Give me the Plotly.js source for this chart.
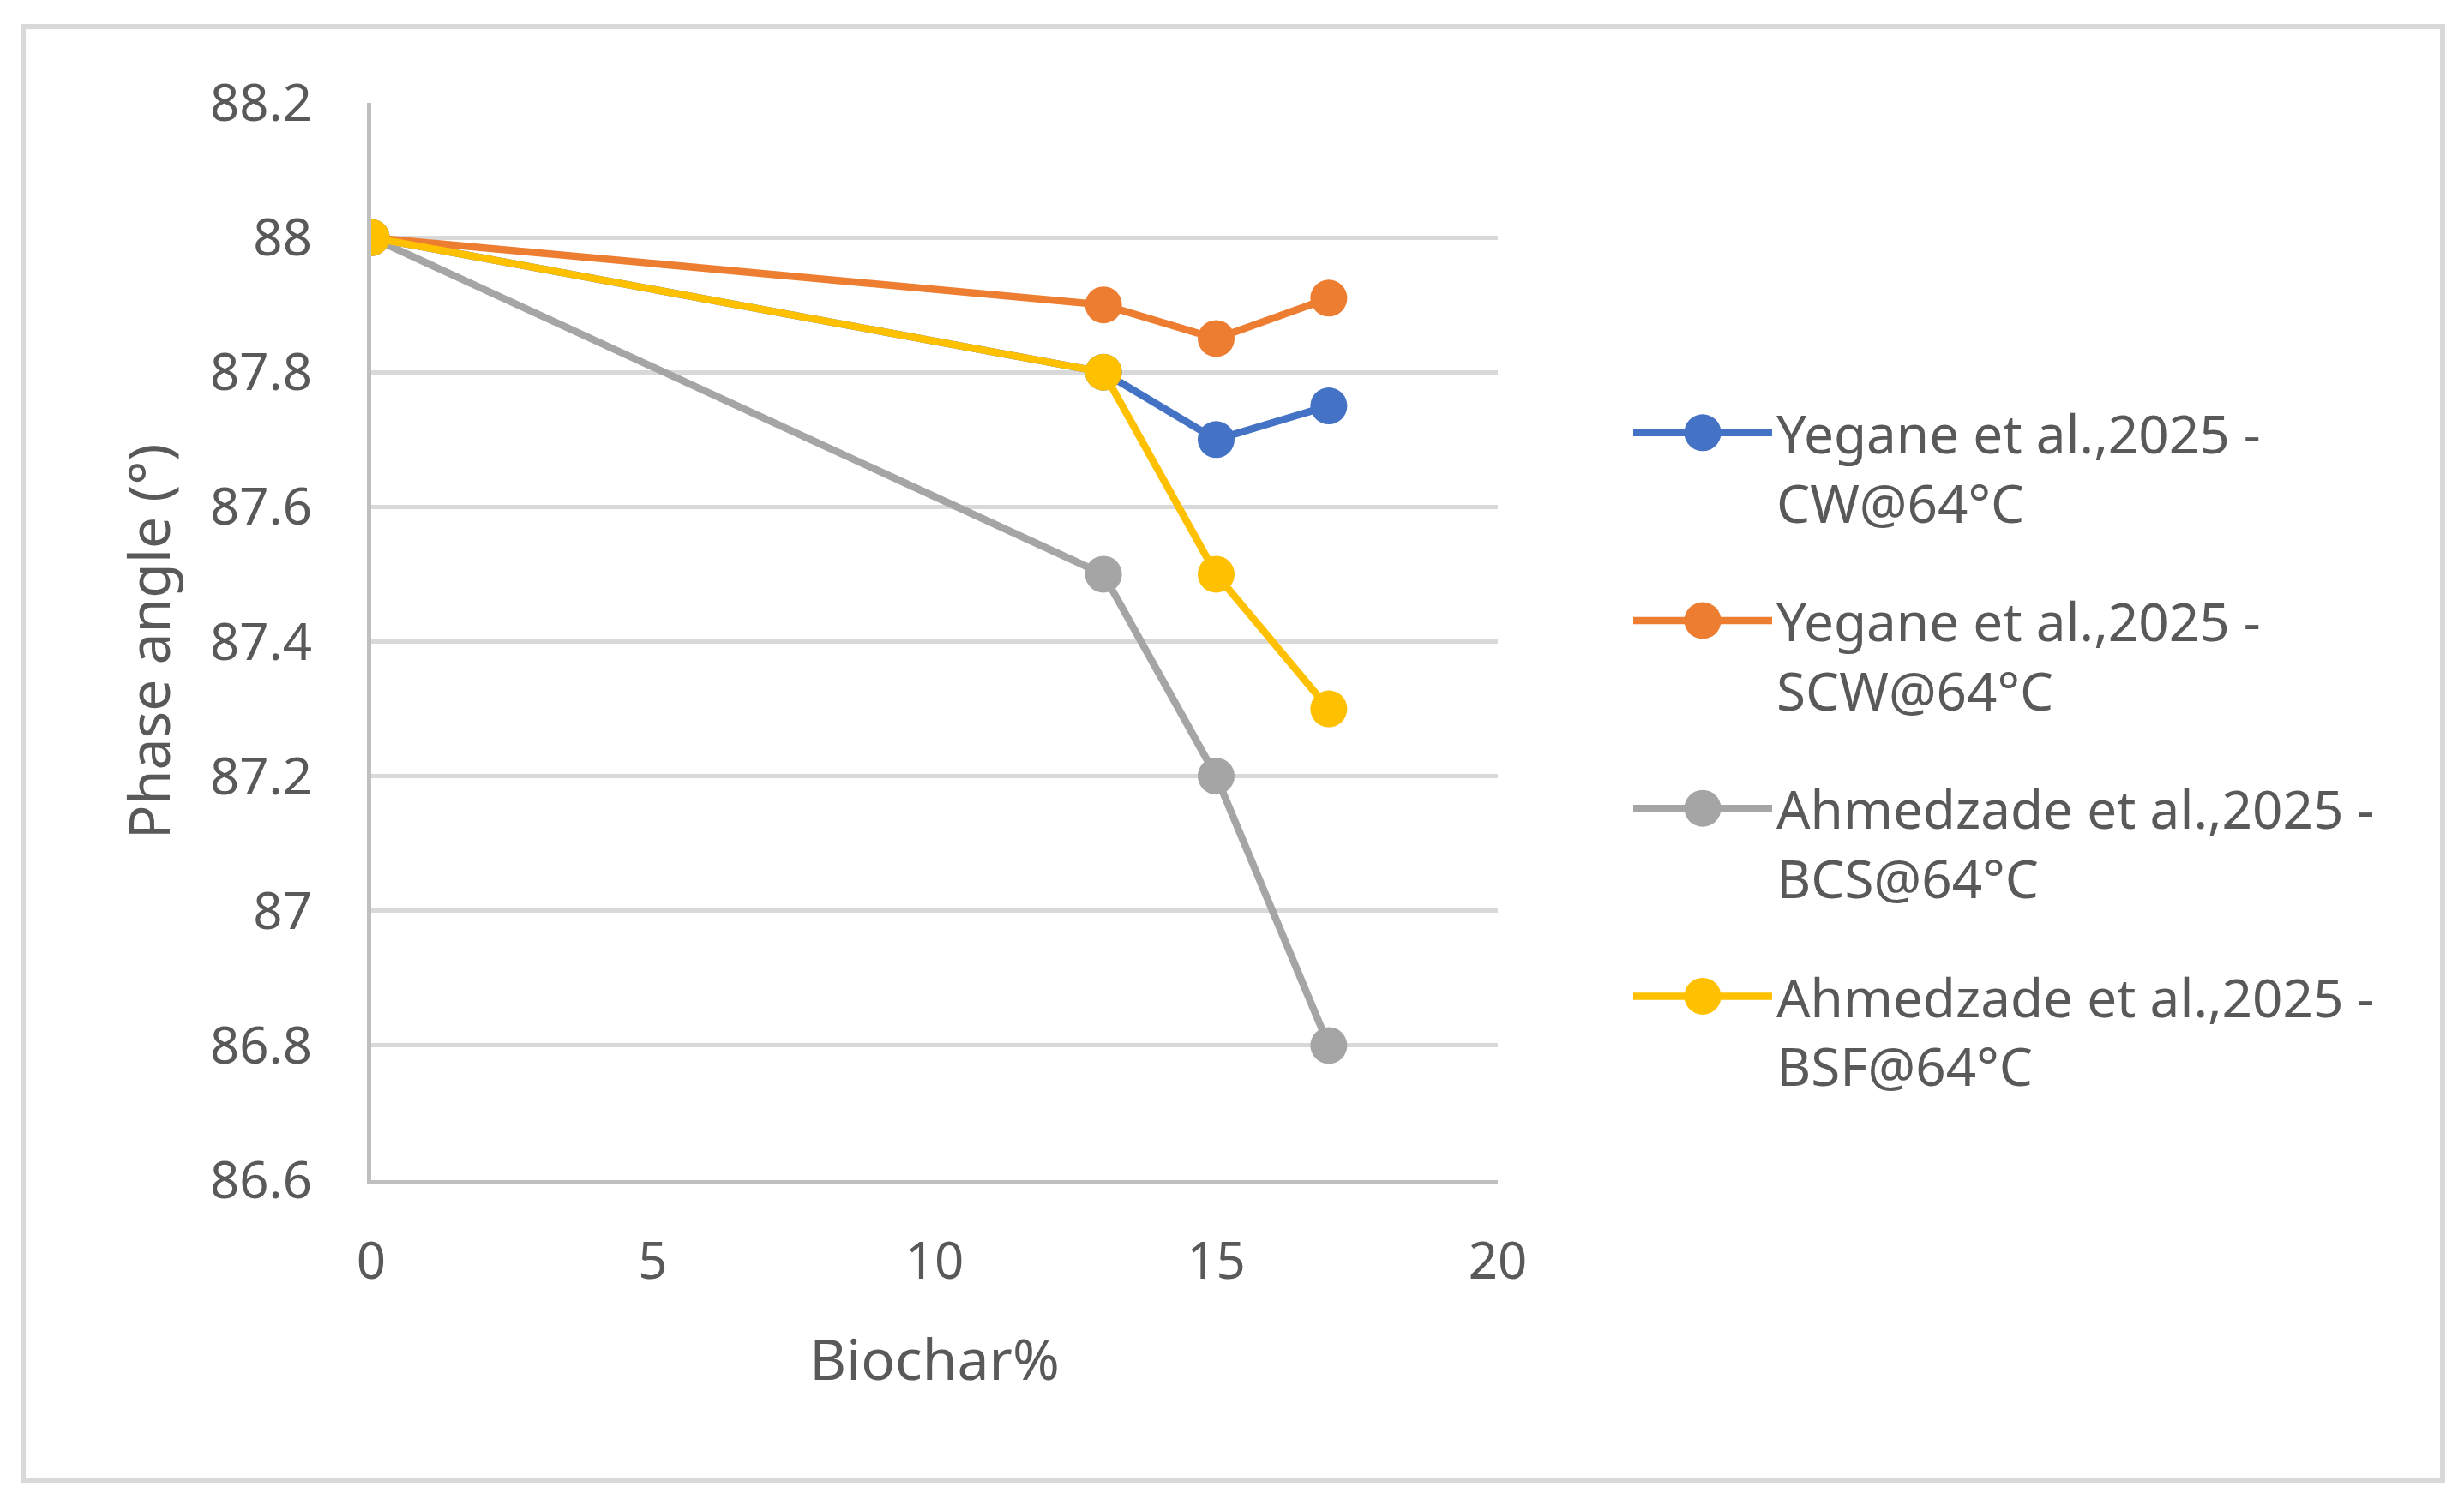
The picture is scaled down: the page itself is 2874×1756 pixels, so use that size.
<!DOCTYPE html>
<html>
<head>
<meta charset="utf-8">
<script src="https://cdn.plot.ly/plotly-3.0.1.min.js"></script>
<style>
  html, body { margin: 0; padding: 0; background: #ffffff; }
  #chart { width: 2874px; height: 1756px; }
</style>
</head>
<body>
<div id="chart"></div>
<script>
// ---- data ----
const biocharPct = [0, 13, 15, 17];
const seriesNames = [
  "Yegane et al.,2025 -<br>CW@64°C",
  "Yegane et al.,2025 -<br>SCW@64°C",
  "Ahmedzade et al.,2025 -<br>BCS@64°C",
  "Ahmedzade et al.,2025 -<br>BSF@64°C"
];
const cwValues  = [88, 87.8, 87.7, 87.75];
const scwValues = [88, 87.9, 87.85, 87.91];
const bcsValues = [88, 87.5, 87.2, 86.8];
const bsfValues = [88, 87.8, 87.5, 87.3];
const yTickVals = [86.6, 86.8, 87, 87.2, 87.4, 87.6, 87.8, 88, 88.2];
const yTickText = ["86.6", "86.8", "87", "87.2", "87.4", "87.6", "87.8", "88", "88.2"];
const xTickVals = [0, 5, 10, 15, 20];
const xTickText = ["0", "5", "10", "15", "20"];

// ---- styling ----
const colors = ["#4472C4", "#ED7D31", "#A5A5A5", "#FFC000"];
const allValues = [cwValues, scwValues, bcsValues, bsfValues];
const textColor = "#595959";
const fontFamily = "'Noto Sans', 'Open Sans', sans-serif";
const markerSize = 43;

const traces = allValues.map((vals, i) => ({
  type: "scatter",
  mode: "lines+markers",
  x: biocharPct,
  y: vals,
  name: seriesNames[i],
  legendgroup: "g" + i,
  line: { color: colors[i], width: 8.5 },
  marker: { color: colors[i], size: markerSize },
  hoverinfo: "x+y+name"
}));

const W = 2874, H = 1756;
const L = 433, R = 1747, T = 120, B = 1377;
const pw = R - L, ph = B - T;
const px = v => (v - L) / pw;
const py = v => (B - v) / ph;

const layout = {
  width: W,
  height: H,
  paper_bgcolor: "#ffffff",
  plot_bgcolor: "#ffffff",
  font: { family: fontFamily, color: textColor, size: 60 },
  margin: { l: L, r: W - R, t: T, b: H - B, pad: 0 },
  showlegend: true,
  legend: {
    x: px(1900),
    y: py(458),
    xanchor: "left",
    yanchor: "top",
    valign: "top",
    itemwidth: 162,
    tracegroupgap: 55,
    font: { family: fontFamily, color: textColor, size: 62 },
    bgcolor: "rgba(0,0,0,0)",
    borderwidth: 0
  },
  xaxis: {
    range: [0, 20],
    tickvals: xTickVals,
    ticktext: xTickText,
    showgrid: false,
    zeroline: false,
    showline: true,
    linecolor: "#BFBFBF",
    linewidth: 5,
    ticks: "",
    ticklabelstandoff: 38,
    tickfont: { family: fontFamily, color: textColor, size: 60 },
    title: { text: "Biochar%", font: { family: fontFamily, color: textColor, size: 66 }, standoff: 56 },
    automargin: false,
    fixedrange: true
  },
  yaxis: {
    range: [86.6, 88.2],
    tickvals: yTickVals,
    ticktext: yTickText,
    showgrid: true,
    gridcolor: "#D9D9D9",
    gridwidth: 5,
    zeroline: false,
    showline: true,
    linecolor: "#BFBFBF",
    linewidth: 5,
    ticks: "",
    ticklabelstandoff: 52,
    tickfont: { family: fontFamily, color: textColor, size: 60 },
    title: { text: "Phase angle (°)", font: { family: fontFamily, color: textColor, size: 66 }, standoff: 26 },
    automargin: false,
    fixedrange: true
  },
  shapes: [{
    type: "rect",
    xref: "paper", yref: "paper",
    x0: px(27), x1: px(2849),
    y0: py(1727), y1: py(31),
    line: { color: "#D9D9D9", width: 6 },
    fillcolor: "rgba(0,0,0,0)",
    layer: "below"
  }]
};

Plotly.newPlot("chart", traces, layout, { displayModeBar: false, staticPlot: true }).then(gd => {
  // Plotly caps legend marker size at 16px; enlarge legend glyphs to match the plotted markers.
  const r = markerSize / 2;
  const circle = `M${r},0A${r},${r} 0 1,1 0,-${r}A${r},${r} 0 0,1 ${r},0Z`;
  gd.querySelectorAll(".legend .legendpoints path.scatterpts").forEach(p => p.setAttribute("d", circle));
});
</script>
</body>
</html>
